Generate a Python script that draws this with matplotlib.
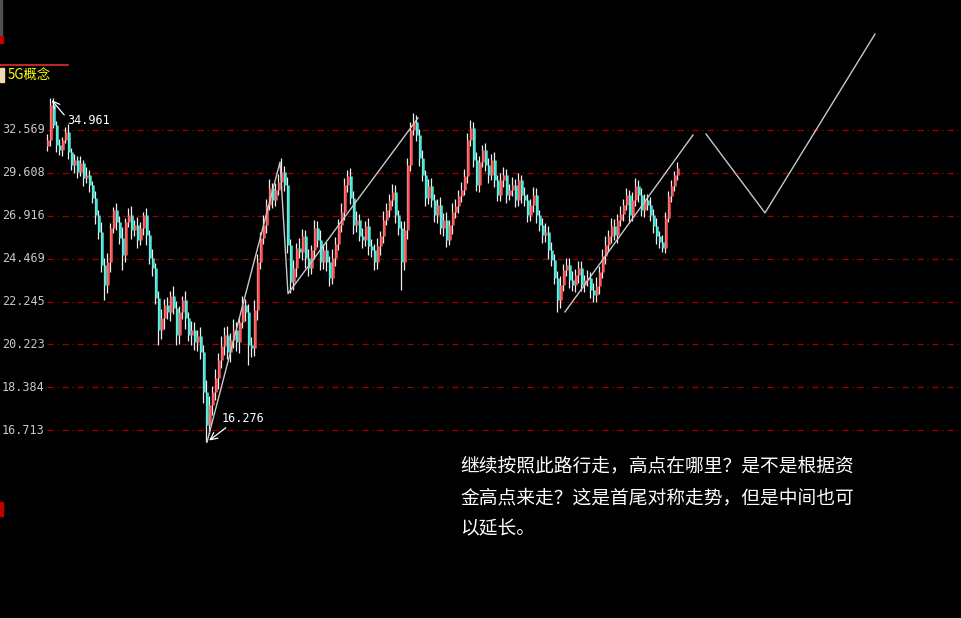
import matplotlib
matplotlib.use("Agg")
import matplotlib.pyplot as plt
import numpy as np

plt.rcParams['font.family'] = ['Noto Sans CJK SC', 'DejaVu Sans']

# 收盘价（逐根K线）
closes = [
    31.85, 34.43, 32.93, 31.50, 31.15, 31.85, 32.43, 31.01, 30.13, 30.47,
    29.67, 30.27, 29.28, 29.47, 28.82, 28.01, 26.97, 25.97, 24.13, 23.08,
    24.29, 26.20, 27.27, 26.55, 25.63, 24.67, 26.55, 26.97, 26.08, 26.37,
    25.51, 26.20, 26.97, 25.80, 24.51, 23.97, 22.43, 20.89, 21.45, 22.08,
    21.74, 22.53, 21.94, 20.66, 21.74, 22.33, 21.45, 20.66, 20.89, 20.34,
    20.62, 19.89, 18.19, 16.92, 17.68, 18.19, 18.77, 19.54, 20.16, 20.66,
    19.89, 20.43, 20.89, 20.34, 21.26, 22.08, 21.74, 20.20, 20.05, 21.84,
    24.29, 25.63, 26.37, 27.57, 28.64, 27.88, 28.51, 29.02, 29.67, 28.82,
    25.23, 23.23, 23.97, 25.06, 24.84, 25.74, 24.51, 23.97, 24.95, 26.20,
    25.51, 24.29, 24.95, 24.29, 23.44, 24.51, 25.29, 26.37, 27.15, 28.82,
    29.41, 28.01, 26.37, 26.67, 25.74, 25.51, 26.31, 25.18, 24.95, 24.29,
    25.18, 25.74, 26.67, 27.27, 27.88, 28.38, 26.97, 26.20, 24.29, 26.08,
    30.13, 32.57, 33.15, 32.21, 30.61, 29.47, 28.01, 28.76, 27.88, 26.97,
    27.57, 26.20, 26.67, 25.51, 26.37, 27.15, 27.51, 28.13, 28.51, 29.41,
    31.85, 32.71, 30.47, 28.82, 30.33, 31.15, 30.13, 29.47, 30.47, 29.15,
    28.19, 29.15, 29.47, 28.19, 28.51, 28.82, 27.88, 29.15, 28.19, 27.88,
    26.97, 27.57, 28.19, 26.97, 26.37, 25.80, 25.97, 24.95, 24.40, 23.44,
    22.33, 23.08, 23.87, 24.13, 23.34, 23.08, 23.60, 23.97, 23.08, 23.34,
    23.44, 22.83, 22.58, 23.03, 23.76, 24.62, 25.23, 25.74, 26.31, 25.80,
    26.67, 27.03, 27.57, 28.19, 26.97, 27.88, 28.76, 28.19, 27.27, 27.88,
    27.57, 26.97, 26.31, 25.74, 25.40, 25.06, 26.79, 28.13, 28.76, 29.47,
    29.93,
]
first_open = 31.40

# 上影线、下影线长度（价格）
wick_up = [
    0.40, 0.10, 0.50, 0.30, 0.45, 0.20, 0.35, 0.55, 0.25, 0.40,
    0.30, 0.45, 0.20, 0.50, 0.35, 0.25, 0.40, 0.30, 0.55, 0.35,
    0.50, 0.30, 0.00, 0.45, 0.35, 0.60, 0.25, 0.40, 0.55, 0.30,
    0.45, 0.35, 0.20, 0.40, 0.30, 0.50, 0.25, 0.35, 0.45, 0.30,
    0.40, 0.25, 0.50, 0.35, 0.30, 0.20, 0.45, 0.30, 0.40, 0.35,
    0.25, 0.40, 0.30, 0.50, 0.35, 0.25, 0.40, 0.30, 0.45, 0.35,
    0.40, 0.30, 0.50, 0.35, 0.25, 0.45, 0.30, 0.40, 0.35, 0.50,
    0.45, 0.35, 0.60, 0.40, 0.55, 0.30, 0.45, 0.50, 0.00, 0.40,
    0.50, 0.35, 0.45, 0.30, 0.55, 0.40, 0.35, 0.50, 0.30, 0.45,
    0.40, 0.55, 0.35, 0.45, 0.30, 0.50, 0.40, 0.35, 0.55, 0.45,
    0.00, 0.50, 0.40, 0.55, 0.35, 0.45, 0.30, 0.50, 0.40, 0.35,
    0.45, 0.30, 0.55, 0.40, 0.35, 0.50, 0.45, 0.30, 0.40, 0.55,
    0.45, 0.60, 0.00, 0.50, 0.40, 0.55, 0.35, 0.45, 0.50, 0.40,
    0.35, 0.50, 0.40, 0.45, 0.30, 0.55, 0.40, 0.35, 0.50, 0.45,
    0.50, 0.00, 0.45, 0.55, 0.40, 0.35, 0.50, 0.45, 0.40, 0.55,
    0.35, 0.45, 0.50, 0.40, 0.35, 0.55, 0.40, 0.45, 0.30, 0.50,
    0.40, 0.35, 0.50, 0.45, 0.30, 0.40, 0.50, 0.35, 0.45, 0.30,
    0.35, 0.45, 0.30, 0.40, 0.35, 0.45, 0.30, 0.40, 0.35, 0.25,
    0.40, 0.30, 0.35, 0.45, 0.30, 0.40, 0.50, 0.35, 0.45, 0.40,
    0.35, 0.50, 0.40, 0.45, 0.30, 0.50, 0.00, 0.40, 0.45, 0.35,
    0.40, 0.50, 0.35, 0.45, 0.30, 0.40, 0.35, 0.30, 0.40, 0.25,
    0.00,
]
wick_dn = [
    0.30, 0.45, 0.25, 0.50, 0.35, 0.40, 0.20, 0.45, 0.30, 0.55,
    0.40, 0.25, 0.50, 0.35, 0.45, 0.30, 0.55, 0.40, 0.35, 0.00,
    0.40, 0.55, 0.30, 0.45, 0.35, 0.00, 0.40, 0.30, 0.50, 0.35,
    0.45, 0.30, 0.40, 0.55, 0.35, 0.45, 0.30, 0.00, 0.40, 0.50,
    0.35, 0.45, 0.30, 0.00, 0.40, 0.35, 0.50, 0.30, 0.45, 0.35,
    0.40, 0.30, 0.45, 0.00, 0.35, 0.40, 0.30, 0.45, 0.35, 0.40,
    0.30, 0.45, 0.35, 0.40, 0.50, 0.30, 0.45, 0.00, 0.40, 0.35,
    0.50, 0.40, 0.35, 0.45, 0.30, 0.50, 0.40, 0.35, 0.45, 0.40,
    0.45, 0.00, 0.40, 0.50, 0.35, 0.45, 0.55, 0.40, 0.30, 0.50,
    0.40, 0.45, 0.35, 0.50, 0.40, 0.30, 0.45, 0.35, 0.40, 0.50,
    0.45, 0.35, 0.50, 0.40, 0.30, 0.45, 0.35, 0.50, 0.40, 0.45,
    0.35, 0.50, 0.40, 0.30, 0.45, 0.35, 0.50, 0.40, 0.00, 0.45,
    0.50, 0.40, 0.35, 0.45, 0.55, 0.40, 0.50, 0.35, 0.45, 0.40,
    0.50, 0.35, 0.45, 0.40, 0.30, 0.50, 0.35, 0.45, 0.40, 0.35,
    0.45, 0.40, 0.50, 0.35, 0.45, 0.30, 0.40, 0.50, 0.35, 0.45,
    0.40, 0.35, 0.45, 0.50, 0.30, 0.40, 0.45, 0.35, 0.50, 0.40,
    0.45, 0.35, 0.40, 0.50, 0.35, 0.45, 0.40, 0.50, 0.35, 0.30,
    0.00, 0.40, 0.30, 0.35, 0.40, 0.30, 0.35, 0.40, 0.30, 0.35,
    0.30, 0.40, 0.00, 0.35, 0.40, 0.30, 0.45, 0.35, 0.40, 0.30,
    0.45, 0.35, 0.40, 0.30, 0.50, 0.35, 0.40, 0.45, 0.35, 0.40,
    0.30, 0.35, 0.40, 0.45, 0.35, 0.00, 0.30, 0.25, 0.35, 0.30,
    0.30,
]

# 影线极值（K线序号: 价格）
high_marks = {1: 34.961, 22: 27.45, 78: 30.61, 100: 29.80, 122: 33.83,
              141: 33.30, 196: 29.28, 210: 30.33}
low_marks = {19: 22.33, 25: 23.87, 37: 20.20, 43: 20.20, 53: 16.276,
             67: 19.33, 81: 22.68, 118: 22.83, 170: 21.74, 182: 22.23,
             205: 24.84}

# 纵轴刻度
tick_values = [32.569, 29.608, 26.916, 24.469, 22.245, 20.223, 18.384, 16.713]

# 画线（K线序号, 价格）
wave_x = [53.33, 77.67, 80.33, 123.67]
wave_y = [16.276, 30.33, 22.64, 33.45]
trend_x = [172.67, 215.33]
trend_y = [21.74, 32.21]
proj_x = [219.67, 239.33, 276.0]
proj_y = [32.28, 27.09, 40.31]

note_lines = [
    "继续按照此路行走，高点在哪里？是不是根据资",
    "金高点来走？这是首尾对称走势，但是中间也可",
    "以延长。",
]

W, H = 962, 618
fig = plt.figure(figsize=(W / 100, H / 100), dpi=100, facecolor="black")
ax = fig.add_axes([0, 0, 1, 1])
ax.set_facecolor("black")
ax.set_yscale("log")
ax.set_xlim(-47 / 3, (W - 47) / 3)
ax.set_ylim(11.013, 43.475)
ax.axis("off")

UP = "#ff5252"
DOWN = "#44e8d8"
WICK = "#eeeeee"

c = np.array(closes)
o = np.concatenate([[first_open], c[:-1]])
hi = np.maximum(o, c) + np.array(wick_up)
lo = np.minimum(o, c) - np.array(wick_dn)
for k, v in high_marks.items():
    hi[k] = v
for k, v in low_marks.items():
    lo[k] = v
x = np.arange(len(c))
up = c >= o

# 网格线
for v in tick_values:
    ax.axhline(v, xmin=47 / W, xmax=1, color="#9a0000", lw=0.9,
               ls=(0, (5, 3, 1, 3)), zorder=1)
    ax.text(2 / W, v, f"{v:.3f}", transform=ax.get_yaxis_transform(),
            color="#c8c8c8", fontsize=8.5, family="DejaVu Sans Mono",
            ha="left", va="center")

ax.vlines(x, lo, hi, color=WICK, lw=0.9, zorder=3)
ax.vlines(x[up] + 0.4, o[up], c[up], color=UP, lw=1.8, zorder=4)
ax.vlines(x[~up] + 0.4, c[~up], o[~up], color=DOWN, lw=1.8, zorder=4)

line_kw = dict(color="#c8c8c8", lw=1.0, zorder=5)
ax.plot(wave_x, wave_y, **line_kw)
ax.plot(trend_x, trend_y, **line_kw)
ax.plot(proj_x, proj_y, **line_kw)

arrow = dict(arrowstyle="->,head_length=0.5,head_width=0.25", color="white", lw=0.9)
ax.annotate("", xy=(1, 34.961), xytext=(6.33, 33.52), arrowprops=arrow, zorder=6)
ax.text(6.6, 33.23, "34.961", color="white", fontsize=8.5,
        family="DejaVu Sans Mono", ha="left", va="center")
ax.annotate("", xy=(53.33, 16.276), xytext=(60.33, 16.87), arrowprops=arrow, zorder=6)
ax.text(58.33, 17.14, "16.276", color="white", fontsize=8.5,
        family="DejaVu Sans Mono", ha="left", va="center")

# 左上角标题
fig.add_artist(plt.Line2D([0, 68 / W], [1 - 65 / H, 1 - 65 / H], color="#e03030", lw=1.2))
fig.add_artist(plt.Rectangle((0, 1 - 82 / H), 4 / W, 14 / H, color="#f0d8b0"))
fig.add_artist(plt.Rectangle((0, 1 - 40 / H), 2 / W, 40 / H, color="#505050"))
fig.add_artist(plt.Rectangle((0, 1 - 43 / H), 3 / W, 7 / H, color="#c00000"))
fig.add_artist(plt.Rectangle((0, 1 - 516 / H), 3 / W, 14 / H, color="#c00000"))
fig.text(8 / W, 1 - 75 / H, "5G概念", color="#ffff00", fontsize=9.6,
         ha="left", va="center")

for i, line in enumerate(note_lines):
    fig.text(460 / W, 1 - (466 + 31.5 * i) / H, line, color="white",
             fontsize=13.5, ha="left", va="center")

fig.savefig("out.png", dpi=100, facecolor="black")
